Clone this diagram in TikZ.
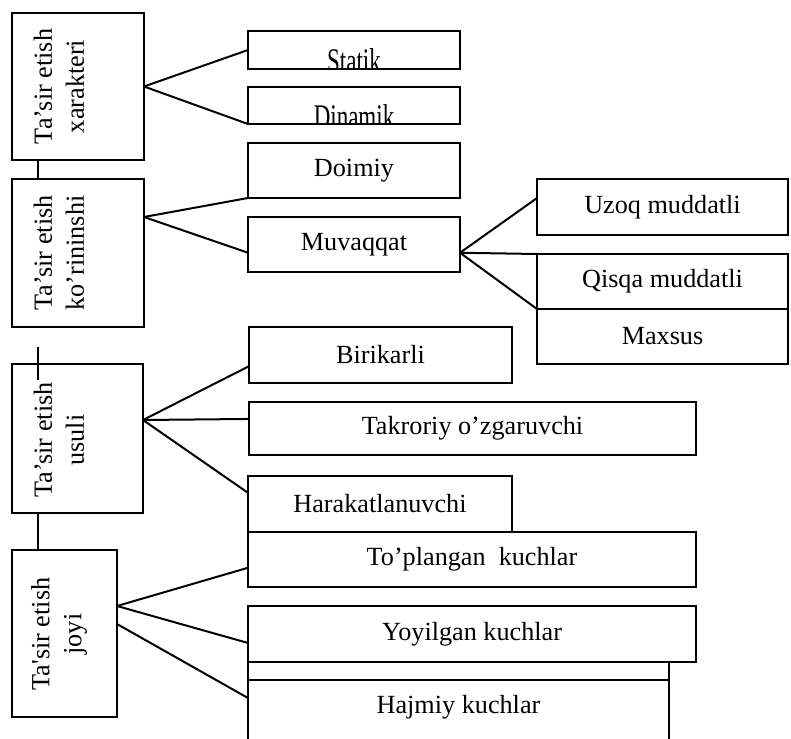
\documentclass[tikz,border=0pt]{standalone}
\usepackage{fontspec}
\setmainfont{Liberation Serif}
\usetikzlibrary{calc}

\tikzset{
  box/.style={draw, line width=1pt, fill=white, inner sep=0pt, outer sep=0pt, font=\fontsize{13.1}{16}\selectfont},
  vlabel/.style={rotate=90, align=center, inner sep=0pt, font=\fontsize{13.1}{16}\selectfont},
  cuttext/.style={path picture={\node[anchor=base, inner sep=0pt, font=\fontsize{11.5}{14}\selectfont] at ([yshift=-2pt]path picture bounding box.south) {\scalebox{1}[1.5]{#1}};}},
  link/.style={line width=1pt}
}

\begin{document}
\begin{tikzpicture}[x=0.5pt, y=-0.5pt]
    \useasboundingbox (0,0) rectangle (791,738);
    \clip (0,0) rectangle (791,738);

    % Left column
    \node[box, minimum width=66pt, minimum height=73.5pt] (xar) at (78,86.5) {};
    \node[vlabel] (xarT) at (59,86.5) {Ta’sir etish\\xarakteri};
    \node[box, minimum width=66pt, minimum height=74pt] (kor) at (78,253) {};
    \node[vlabel] (korT) at (59,253) {Ta’sir etish\\ko’rininshi};
    \node[box, minimum width=65.5pt, minimum height=74.5pt] (usul) at (77.5,438.5) {};
    \node[vlabel] (usulT) at (59,440) {Ta’sir etish\\usuli};
    \node[box, minimum width=52.5pt, minimum height=83.5pt] (joy) at (64.5,633.5) {};
    \node[vlabel] (joyT) at (59,634) {Ta\textquotesingle sir etish\\joyi};

    % Boxes on the right
    \node[box, minimum width=106pt, minimum height=19pt, cuttext=Statik] (statik) at (354,50) {};
    \node[box, minimum width=106pt, minimum height=18.5pt, cuttext=Dinamik] (dinamik) at (354,105.5) {};
    \node[box, minimum width=106pt, minimum height=27.5pt] (doimiy) at (354,170.5) {Doimiy};
    \node[box, minimum width=106pt, minimum height=27.5pt] (muvaqqat) at (354,244.5) {Muvaqqat};
    \node[box, minimum width=125.5pt, minimum height=28pt] (uzoq) at (662.5,207) {Uzoq muddatli};
    \node[box, minimum width=125.5pt, minimum height=27.5pt] (qisqa) at (662.5,281.5) {Qisqa muddatli};
    \node[box, minimum width=125.5pt, minimum height=27.5pt] (maxsus) at (662.5,336.5) {Maxsus};
    \node[box, minimum width=131.5pt, minimum height=28pt] (birikarli) at (380.5,355) {Birikarli};
    \node[box, minimum width=223.5pt, minimum height=26.5pt] (takroriy) at (472.5,428.5) {Takroriy o’zgaruvchi};
    \node[box, minimum width=132pt, minimum height=28pt] (harakat) at (380,504) {Harakatlanuvchi};
    \node[box, minimum width=224pt, minimum height=27.5pt] (toplangan) at (472,559.5) {To’plangan\ \ kuchlar};
    \node[box, minimum width=224pt, minimum height=28pt] (yoyilgan) at (472,634) {Yoyilgan kuchlar};
    \node[box, minimum width=210.5pt, minimum height=41.5pt] (yashirin) at (458.5,703.5) {};
    \node[box, minimum width=210.5pt, minimum height=30pt, text depth=6pt] (hajmiy) at (458.5,710) {Hajmiy kuchlar};

    % Lines
    \draw[link] (xar.east) -- (statik.west);
    \draw[link] (xar.east) -- (dinamik.south west);
    \draw[link] ($(xar.south west)+(26,0)$) -- ($(kor.north west)+(26,0)$);

    \draw[link] ($(kor.north east)+(0,38)$) -- (doimiy.south west);
    \draw[link] ($(kor.north east)+(0,38)$) -- ($(muvaqqat.north west)!0.65!(muvaqqat.south west)$);

    \coordinate (mv) at ($(muvaqqat.north east)!0.65!(muvaqqat.south east)$);
    \draw[link] (mv) -- ($(uzoq.north west)!0.34!(uzoq.south west)$);
    \draw[link] (mv) -- (qisqa.north west);
    \draw[link] (mv) -- (qisqa.south west);

    \draw[link] ($(usul.north west)+(26,-17)$) -- ($(usul.north west)+(26,16)$);
    \coordinate (us) at ($(usul.north east)+(0,56)$);
    \draw[link] (us) -- ($(birikarli.north west)!0.7!(birikarli.south west)$);
    \draw[link] (us) -- ($(takroriy.north west)!0.32!(takroriy.south west)$);
    \draw[link] (us) -- ($(harakat.north west)!0.3!(harakat.south west)$);
    \draw[link] ($(usul.south west)+(26,0)$) -- ($(joy.north west)+(26,0)$);

    \coordinate (jy) at ($(joy.north east)+(0,56)$);
    \draw[link] (jy) -- ($(toplangan.north west)!0.65!(toplangan.south west)$);
    \draw[link] (jy) -- ($(yoyilgan.north west)!0.66!(yoyilgan.south west)$);
    \draw[link] ($(joy.north east)+(0,74)$) -- ($(hajmiy.north west)!0.3!(hajmiy.south west)$);
\end{tikzpicture}
\end{document}
